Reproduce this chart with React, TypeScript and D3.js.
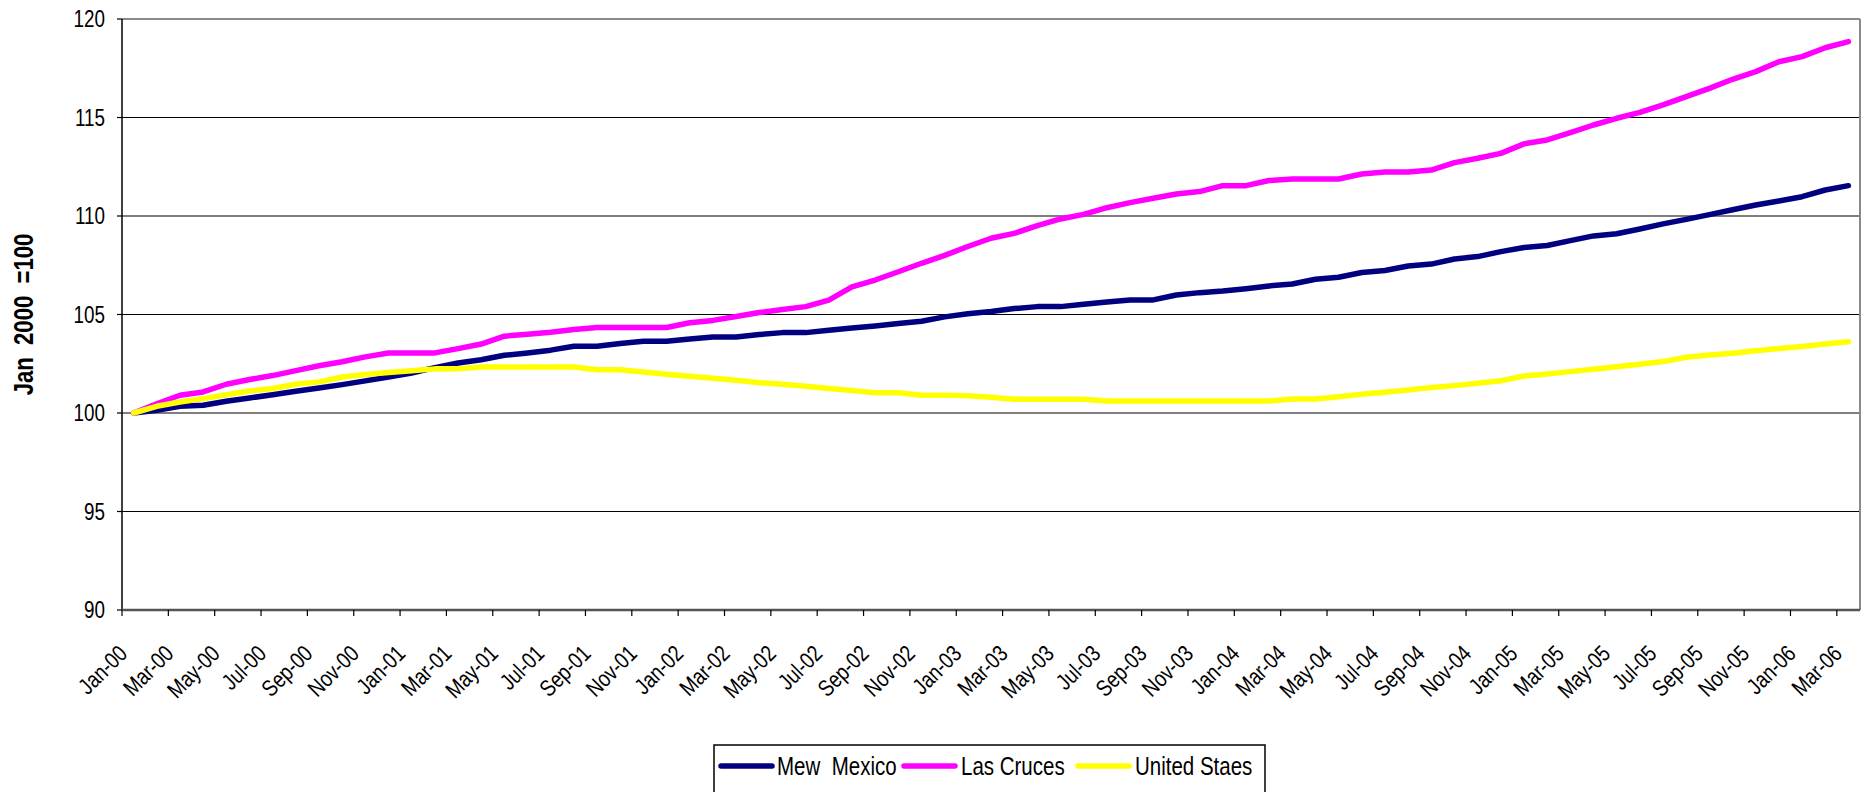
import React from 'react';
import * as d3 from 'd3';

// Monthly categories Jan-00 .. Mar-06
const months: string[] = d3
  .timeMonths(new Date(2000, 0, 1), new Date(2006, 3, 1))
  .map(d => d3.timeFormat('%b-%y')(d));

const newMexico = [
  100.00, 100.14, 100.34, 100.39, 100.60, 100.76, 100.93, 101.10, 101.27, 101.44, 101.63, 101.83,
  102.03, 102.30, 102.54, 102.70, 102.93, 103.05, 103.19, 103.39, 103.39, 103.53, 103.64, 103.64,
  103.76, 103.86, 103.86, 103.98, 104.08, 104.08, 104.20, 104.32, 104.42, 104.54, 104.66, 104.88,
  105.04, 105.15, 105.30, 105.40, 105.40, 105.52, 105.63, 105.74, 105.74, 105.99, 106.11, 106.19,
  106.31, 106.45, 106.55, 106.79, 106.89, 107.13, 107.23, 107.46, 107.56, 107.82, 107.94, 108.19,
  108.40, 108.50, 108.75, 108.99, 109.10, 109.34, 109.60, 109.83, 110.07, 110.32, 110.56, 110.76,
  110.98, 111.32, 111.54,
];

const lasCruces = [
  100.00, 100.47, 100.90, 101.07, 101.46, 101.70, 101.90, 102.15, 102.40, 102.60, 102.85, 103.05,
  103.05, 103.05, 103.27, 103.50, 103.90, 104.00, 104.10, 104.24, 104.34, 104.34, 104.34, 104.34,
  104.58, 104.70, 104.90, 105.10, 105.25, 105.40, 105.73, 106.40, 106.75, 107.17, 107.60, 108.00,
  108.45, 108.87, 109.12, 109.51, 109.85, 110.08, 110.42, 110.68, 110.90, 111.12, 111.24, 111.54,
  111.54, 111.80, 111.88, 111.88, 111.88, 112.13, 112.23, 112.23, 112.33, 112.71, 112.93, 113.18,
  113.66, 113.86, 114.23, 114.62, 114.96, 115.26, 115.64, 116.06, 116.48, 116.94, 117.33, 117.83,
  118.09, 118.54, 118.85,
];

const unitedStates = [
  100.00, 100.34, 100.56, 100.73, 100.93, 101.12, 101.24, 101.46, 101.58, 101.83, 101.95, 102.05,
  102.15, 102.24, 102.24, 102.34, 102.34, 102.34, 102.34, 102.34, 102.20, 102.20, 102.08, 101.97,
  101.86, 101.76, 101.66, 101.54, 101.46, 101.36, 101.24, 101.14, 101.03, 101.03, 100.90, 100.90,
  100.87, 100.80, 100.70, 100.70, 100.70, 100.70, 100.61, 100.61, 100.61, 100.61, 100.61, 100.61,
  100.61, 100.61, 100.71, 100.71, 100.83, 100.95, 101.05, 101.17, 101.29, 101.39, 101.51, 101.64,
  101.88, 101.98, 102.10, 102.22, 102.35, 102.47, 102.61, 102.83, 102.94, 103.03, 103.16, 103.27,
  103.38, 103.50, 103.62,
];

const seriesNames = ['Mew  Mexico', 'Las Cruces', 'United Staes'];
const seriesColors = ['#000080', '#FF00FF', '#FFFF00'];
const yTicks = [90, 95, 100, 105, 110, 115, 120];

const W = 1862;
const H = 792;
const margin = { left: 122, right: 2, top: 19, bottom: 182 };
const FONT = '"Liberation Sans", Arial, sans-serif';
const NARROW = 'scale(0.82,1)'; // the original uses a condensed face

const App: React.FC = () => {
  const x = d3.scalePoint<string>()
    .domain(months)
    .range([margin.left, W - margin.right])
    .padding(0.5);
  const step = x.step();

  const y = d3.scaleLinear()
    .domain([90, 120])
    .range([H - margin.bottom, margin.top]);

  const line = d3.line<number>()
    .x((_, i) => x(months[i]) as number)
    .y(d => y(d));

  const series = [newMexico, lasCruces, unitedStates];
  const plotLeft = margin.left;
  const plotRight = W - margin.right;
  const plotBottom = y(90);
  const plotTop = y(120);

  // tick marks between categories, every second month
  const tickIdx = months.map((_, i) => i).filter(i => i % 2 === 0);

  // legend layout
  const legX = 714;
  const legY = 745;
  const legItems = [
    { lx: 721, tx: 777 },
    { lx: 904, tx: 961 },
    { lx: 1078, tx: 1135 },
  ];

  return (
    <svg width={W} height={H} style={{ position: 'absolute', left: 0, top: 0, background: '#fff' }}>
      <rect x={0} y={0} width={W} height={H} fill="#fff" />

      {/* gridlines */}
      {yTicks.filter(t => t !== 90 && t !== 120).map(t => (
        <line key={t} x1={plotLeft} x2={plotRight} y1={y(t)} y2={y(t)} stroke="#000" strokeWidth={1.2} />
      ))}
      {/* plot border top/right */}
      <line x1={plotLeft} x2={plotRight} y1={plotTop} y2={plotTop} stroke="#8a8a8a" strokeWidth={2} />
      <line x1={plotRight} x2={plotRight} y1={plotTop} y2={plotBottom} stroke="#8a8a8a" strokeWidth={2} />

      {/* y axis */}
      <line x1={plotLeft} x2={plotLeft} y1={plotTop} y2={plotBottom} stroke="#000" strokeWidth={1.5} />
      {yTicks.map(t => (
        <g key={t}>
          <line x1={plotLeft - 5} x2={plotLeft} y1={y(t)} y2={y(t)} stroke="#000" strokeWidth={1.2} />
          <text
            transform={`translate(${plotLeft - 17},${y(t)}) ${NARROW}`}
            textAnchor="end"
            dominantBaseline="central"
            fontFamily={FONT}
            fontSize={23}
            fill="#000"
          >
            {t}
          </text>
        </g>
      ))}

      {/* x axis */}
      <line x1={plotLeft} x2={plotRight} y1={plotBottom} y2={plotBottom} stroke="#555" strokeWidth={2.5} />
      {tickIdx.map(i => {
        const bx = (x(months[i]) as number) - step / 2;
        return <line key={i} x1={bx} x2={bx} y1={plotBottom} y2={plotBottom + 6} stroke="#000" strokeWidth={1.2} />;
      })}
      {tickIdx.map(i => {
        const cx = x(months[i]) as number;
        return (
          <text
            key={'l' + i}
            transform={`translate(${cx - 5},${plotBottom + 45}) rotate(-45) ${NARROW}`}
            textAnchor="end"
            fontFamily={FONT}
            fontSize={23}
            fill="#000"
          >
            {months[i]}
          </text>
        );
      })}

      {/* series lines */}
      {series.map((s, k) => (
        <path
          key={k}
          d={line(s) || ''}
          fill="none"
          stroke={seriesColors[k]}
          strokeWidth={5.5}
          strokeLinejoin="round"
          strokeLinecap="round"
        />
      ))}

      {/* y axis title */}
      <text
        transform={`translate(33,${(plotTop + plotBottom) / 2}) rotate(-90) ${NARROW}`}
        textAnchor="middle"
        fontFamily={FONT}
        fontWeight="bold"
        fontSize={27}
        fill="#000"
        style={{ whiteSpace: 'pre' }}
      >
        {'Jan  2000  =100'}
      </text>

      {/* legend */}
      <rect x={legX} y={legY} width={551} height={53} fill="#fff" stroke="#000" strokeWidth={1.5} />
      {legItems.map((it, k) => (
        <g key={k}>
          <line x1={it.lx} x2={it.lx + 51} y1={766} y2={766} stroke={seriesColors[k]} strokeWidth={5.5} strokeLinecap="round" />
          <text
            transform={`translate(${it.tx},766) ${NARROW}`}
            dominantBaseline="central"
            fontFamily={FONT}
            fontSize={25}
            fill="#000"
            style={{ whiteSpace: 'pre' }}
          >
            {seriesNames[k]}
          </text>
        </g>
      ))}
    </svg>
  );
};

export default App;
